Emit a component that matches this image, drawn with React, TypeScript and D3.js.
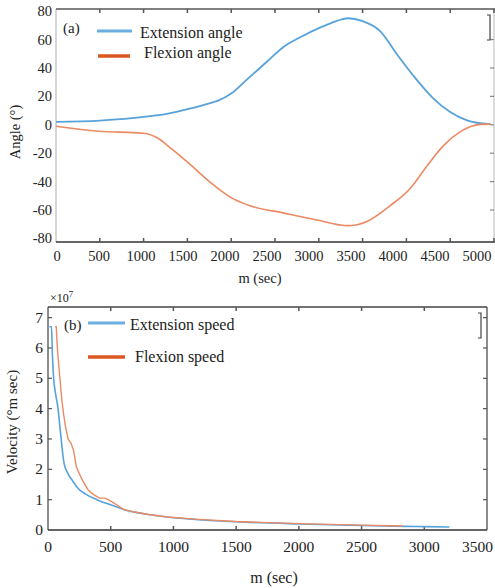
import React from "react"
import * as d3 from "d3"

// panel (a): joint angles
const angleTime = [0, 500, 1000, 1100, 1200, 1500, 1800, 1850, 2000, 2200, 2400, 2600, 2800, 3000, 3200, 3333, 3500, 3700, 3900, 4100, 4300, 4500, 4700, 4900, 4960]
const extensionAngle = [2, 3, 5.5, 6.3, 7, 11, 16, 17, 22, 33, 44, 55, 62, 68, 73, 75, 73, 66, 49, 33, 19, 9, 3, 0.8, 0.6]
const flexTime = [0, 490, 993, 1050, 1150, 1320, 1495, 1792, 2020, 2215, 2591, 2979, 3333, 3550, 3813, 4041, 4235, 4418, 4612, 4840, 4960]
const flexionAngle = [-1, -4.5, -6, -6.5, -9, -17, -26, -42, -52, -57, -62, -67, -71, -68, -57, -45, -29, -15, -5, 0.3, 0.5]
const angleTicksX = [0, 500, 1000, 1500, 2000, 2500, 3000, 3500, 4000, 4500, 5000]
const angleTicksY = [-80, -60, -40, -20, 0, 20, 40, 60, 80]

// panel (b): speeds (x 10^7)
const extSpeedTime = [12, 28, 35, 45, 60, 80, 95, 110, 128, 160, 200, 230, 300, 390, 470, 550, 620, 700, 800, 950, 1200, 1500, 2000, 2500, 2850, 3000, 3200]
const extensionSpeed = [6.7, 6.7, 5.8, 5.0, 4.5, 4.0, 3.4, 2.8, 2.2, 1.85, 1.6, 1.42, 1.18, 1.0, 0.87, 0.76, 0.65, 0.58, 0.51, 0.43, 0.34, 0.27, 0.2, 0.15, 0.12, 0.11, 0.1]
const flexSpeedTime = [58, 66, 72, 80, 95, 110, 125, 140, 160, 185, 205, 225, 250, 280, 320, 370, 410, 450, 480, 520, 560, 600, 680, 800, 950, 1200, 1500, 2000, 2500, 2830]
const flexionSpeed = [6.7, 6.7, 6.2, 5.7, 5.0, 4.3, 3.8, 3.4, 3.0, 2.85, 2.6, 2.1, 1.85, 1.6, 1.32, 1.15, 1.05, 1.05, 1.0, 0.9, 0.8, 0.68, 0.6, 0.51, 0.43, 0.35, 0.28, 0.21, 0.16, 0.13]
const speedTicksX = [0, 500, 1000, 1500, 2000, 2500, 3000, 3500]
const speedTicksY = [0, 1, 2, 3, 4, 5, 6, 7]

const blue = "#57a2db"
const orange = "#eb8a63"
const legendBlue = "#6aafe0"
const legendOrange = "#db5722"
const font = "'Liberation Serif', 'Times New Roman', serif"
const ink = "#222"

const App = () => {
  // panel a
  const ax = d3.scaleLinear().domain([0, 5000]).range([56, 494])
  const axLabel = d3.scaleLinear().domain([0, 5000]).range([57, 477])
  const ay = d3.scaleLinear().domain([-82.5, 81.5]).range([242, 9])
  const aLine = d3.line<[number, number]>().x((d) => ax(d[0])).y((d) => ay(d[1])).curve(d3.curveMonotoneX)

  // panel b
  const bx = d3.scaleLinear().domain([0, 3500]).range([48, 487])
  const by = d3.scaleLinear().domain([0, 7.35]).range([530, 307])
  const bLine = d3.line<[number, number]>().x((d) => bx(d[0])).y((d) => by(d[1])).curve(d3.curveMonotoneX)
  const bLineRough = d3.line<[number, number]>().x((d) => bx(d[0])).y((d) => by(d[1]))

  const [aL, aR, aT, aB] = [56, 494, 9, 242]
  const [bL, bR, bT, bB] = [48, 487, 307, 530]

  return (
    <svg width={495} height={588} style={{ position: "absolute", left: 0, top: 0, background: "#fff", fontFamily: font }}>
      {/* ---------- (a) ---------- */}
      <line x1={aL} x2={aL} y1={aT} y2={aB} stroke="#c8c8c8" strokeWidth={1.5} />
      <line x1={aR} x2={aR} y1={aT} y2={aB} stroke="#d0d0d0" strokeWidth={1.5} />
      <line x1={aL} x2={495} y1={aT} y2={aT} stroke="#555" strokeWidth={1.5} />
      <line x1={aL} x2={495} y1={aB} y2={aB} stroke="#333" strokeWidth={1.5} />
      {angleTicksX.map((t) => (
        <g key={"ax" + t}>
          {t > 0 && <line x1={ax(t)} x2={ax(t)} y1={aT} y2={aT + 4} stroke="#555" strokeWidth={1.5} />}
          {t > 0 && <line x1={ax(t)} x2={ax(t)} y1={aB} y2={aB - 4} stroke="#555" strokeWidth={1.5} />}
          <text x={axLabel(t)} y={261} textAnchor="middle" fontSize={14.5} fill={ink}>{t}</text>
        </g>
      ))}
      {angleTicksY.map((t) => (
        <g key={"ay" + t}>
          {t > -80 && t < 80 && <line x1={aR - 4} x2={aR} y1={ay(t)} y2={ay(t)} stroke="#888" strokeWidth={1.2} />}
          <text x={52} y={ay(t) + 5} textAnchor="end" fontSize={14.5} fill={ink}>{t}</text>
        </g>
      ))}
      <path d={"M487,15 H490 V40 H487"} fill="none" stroke="#444" strokeWidth={1.2} />
      <path d={aLine(d3.zip(angleTime, extensionAngle) as [number, number][]) ?? ""} fill="none" stroke={blue} strokeWidth={1.8} />
      <path d={aLine(d3.zip(flexTime, flexionAngle) as [number, number][]) ?? ""} fill="none" stroke={orange} strokeWidth={1.6} />
      <text x={63} y={33} fontSize={15} fill={ink}>(a)</text>
      <line x1={97} x2={132} y1={31} y2={31} stroke={legendBlue} strokeWidth={3} />
      <text x={140} y={38} fontSize={16} fill={ink}>Extension angle</text>
      <line x1={98} x2={130} y1={56} y2={56} stroke={legendOrange} strokeWidth={3.5} />
      <text x={144} y={58} fontSize={16} fill={ink}>Flexion angle</text>
      <text transform={`translate(20,132) rotate(-90)`} textAnchor="middle" fontSize={14.5} fill={ink}>Angle (°)</text>
      <text x={260} y={283} textAnchor="middle" fontSize={14.5} fill={ink}>m (sec)</text>

      {/* ---------- (b) ---------- */}
      <line x1={bL} x2={bL} y1={bT} y2={bB} stroke="#666" strokeWidth={1.5} />
      <line x1={bR} x2={bR} y1={bT} y2={bB} stroke="#666" strokeWidth={1.5} />
      <line x1={bL} x2={bR} y1={bT} y2={bT} stroke="#444" strokeWidth={1.5} />
      <line x1={bL} x2={bR} y1={bB} y2={bB} stroke="#333" strokeWidth={1.5} />
      {speedTicksX.map((t, i) => (
        <g key={"bx" + t}>
          {t > 0 && t < 3500 && <line x1={bx(t)} x2={bx(t)} y1={bT} y2={bT + 4} stroke="#555" strokeWidth={1.5} />}
          {t > 0 && t < 3500 && <line x1={bx(t)} x2={bx(t)} y1={bB} y2={bB - 4} stroke="#555" strokeWidth={1.5} />}
          <text x={i === speedTicksX.length - 1 ? 493 : bx(t)} y={552} textAnchor={i === speedTicksX.length - 1 ? "end" : "middle"} fontSize={15.5} fill={ink}>{t}</text>
        </g>
      ))}
      {speedTicksY.map((t) => (
        <g key={"by" + t}>
          {t > 0 && <line x1={bL} x2={bL + 4} y1={by(t)} y2={by(t)} stroke="#555" strokeWidth={1.2} />}
          {t > 0 && <line x1={bR - 4} x2={bR} y1={by(t)} y2={by(t)} stroke="#555" strokeWidth={1.2} />}
          <text x={43} y={by(t) + 5} textAnchor="end" fontSize={15.5} fill={ink}>{t}</text>
        </g>
      ))}
      <text x={50} y={302} fontSize={12} fill={ink}>×10<tspan dy={-5} fontSize={9}>7</tspan></text>
      <path d={"M478,313 H481 V338 H478"} fill="none" stroke="#444" strokeWidth={1.2} />
      <path d={bLine(d3.zip(extSpeedTime, extensionSpeed) as [number, number][]) ?? ""} fill="none" stroke={blue} strokeWidth={1.6} />
      <path d={bLineRough(d3.zip(flexSpeedTime, flexionSpeed) as [number, number][]) ?? ""} fill="none" stroke={orange} strokeWidth={1.4} />
      <text x={64} y={330} fontSize={15} fill={ink}>(b)</text>
      <line x1={88} x2={125} y1={323} y2={323} stroke={legendBlue} strokeWidth={3} />
      <text x={130} y={330} fontSize={16} fill={ink}>Extension speed</text>
      <line x1={88} x2={125} y1={357} y2={357} stroke={legendOrange} strokeWidth={3.5} />
      <text x={135} y={362} fontSize={16} fill={ink}>Flexion speed</text>
      <text transform={`translate(17,422) rotate(-90)`} textAnchor="middle" fontSize={15} fill={ink}>Velocity (°m sec)</text>
      <text x={274} y={583} textAnchor="middle" fontSize={16} fill={ink}>m (sec)</text>
    </svg>
  )
}

export default App
